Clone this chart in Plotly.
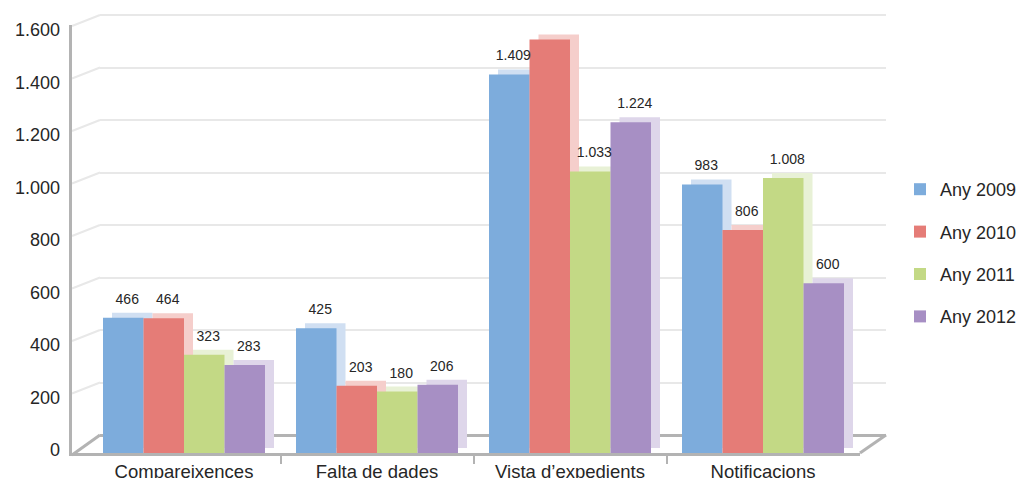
import plotly.graph_objects as go

categories = ["Compareixences", "Falta de dades", "Vista d\u2019expedients", "Notificacions"]
years = ["Any 2009", "Any 2010", "Any 2011", "Any 2012"]
any_2009 = [466, 425, 1409, 983]
any_2010 = [464, 203, 1545, 806]
any_2011 = [323, 180, 1033, 1008]
any_2012 = [283, 206, 1224, 600]
y_ticks = [0, 200, 400, 600, 800, 1000, 1200, 1400, 1600]

front_colors = ["#7DACDC", "#E57C77", "#C3D985", "#A78FC4"]
side_colors = ["#D0DFF2", "#F5CECB", "#E8F1D6", "#DED6EA"]

series = [any_2009, any_2010, any_2011, any_2012]

# pixel geometry of the fake 3D box (page pixels)
W, H = 1024, 478
page_off = 8                          # default body margin of the html page
left, right, top, bottom = 72, 886, 10, 453
back_left, front_right = 100, 860
cat_px0, cat_step = 184, 193          # first group centre, spacing
bar_zero, bar_scale = 438, 0.258      # front faces
grid_zero, grid_scale = 435, 0.2625   # back wall


def fx(p):
    return (p - left) / (right - left)


def fy(p):
    return (bottom - p) / (bottom - top)


depth = (bottom - bar_zero) / bar_scale      # bars reach down to the floor edge
lift = 5 / bar_scale                          # side face raised a little
bar_w = 40.5 / cat_step
side_dx = 9 / cat_step

fig = go.Figure()
xs = list(range(len(categories)))

# empty trace so the back-wall subplot (grid + value axis) gets drawn
fig.add_trace(go.Scatter(x=[], y=[], xaxis="x", yaxis="y", showlegend=False, hoverinfo="skip"))

# side / top faces first (behind)
for i, vals in enumerate(series):
    off = -2 * bar_w + i * bar_w
    fig.add_trace(go.Bar(
        x=xs, y=[v + depth for v in vals], base=-depth + lift,
        offset=off + side_dx, width=bar_w,
        marker=dict(color=side_colors[i], line=dict(width=0)),
        xaxis="x2", yaxis="y2", showlegend=False, hoverinfo="skip",
    ))

# front faces
for i, (name, vals) in enumerate(zip(years, series)):
    off = -2 * bar_w + i * bar_w
    fig.add_trace(go.Bar(
        x=xs, y=[v + depth for v in vals], base=-depth,
        offset=off, width=bar_w, name=name, legendgroup=name,
        marker=dict(color=front_colors[i], line=dict(width=0)),
        customdata=vals, hovertemplate="%{customdata}<extra>" + name + "</extra>",
        xaxis="x2", yaxis="y2",
    ))

# value labels
for i, vals in enumerate(series):
    off = -2 * bar_w + i * bar_w
    fig.add_trace(go.Scatter(
        x=[k + off + bar_w / 2 + 4 / cat_step for k in xs],
        y=[v + 17.5 / bar_scale for v in vals],
        text=[f"{v:,}".replace(",", ".") for v in vals],
        mode="text", textposition="middle center",
        textfont=dict(size=14, color="#262626"),
        xaxis="x2", yaxis="y2", showlegend=False, hoverinfo="skip", cliponaxis=False,
    ))

# frame decoration: floor slants and gridline returns on the left wall
shapes = [
    dict(type="line", xref="paper", yref="paper", x0=fx(left), y0=fy(bottom + 2),
         x1=fx(back_left), y1=fy(grid_zero), line=dict(color="#b3b3b3", width=3), layer="below"),
    dict(type="line", xref="paper", yref="paper", x0=fx(front_right), y0=fy(bottom),
         x1=fx(right), y1=fy(grid_zero), line=dict(color="#b3b3b3", width=3), layer="below"),
]
for t in y_ticks[1:]:
    gp = grid_zero - t * grid_scale
    shapes.append(dict(type="line", xref="paper", yref="paper", x0=fx(left), y0=fy(gp + 11),
                       x1=fx(back_left), y1=fy(gp), line=dict(color="#e8e8e8", width=2), layer="below"))

fig.update_layout(
    width=W - page_off, height=H - page_off,
    margin=dict(l=left - page_off, r=W - right, t=top - page_off, b=H - bottom, autoexpand=False),
    paper_bgcolor="white", plot_bgcolor="rgba(0,0,0,0)",
    font=dict(family="Liberation Sans, Arial, sans-serif", color="#262626"),
    separators=",.",
    barmode="overlay",
    showlegend=True,
    shapes=shapes,
    # back wall: gridlines and value ticks
    xaxis=dict(domain=[fx(back_left), 1], range=[0, 1], visible=False, anchor="y"),
    yaxis=dict(
        domain=[0, 1], anchor="x",
        range=[(grid_zero - bottom) / grid_scale, (grid_zero - top) / grid_scale],
        tickvals=y_ticks, tickformat=",d", tickfont=dict(size=18),
        showgrid=True, gridcolor="#e8e8e8", gridwidth=2,
        zeroline=True, zerolinecolor="#b3b3b3", zerolinewidth=3,
        showline=False, ticks="", ticklabelshift=15, ticklabelstandoff=39,
    ),
    # front: categories and bars
    xaxis2=dict(
        domain=[0, fx(front_right)], anchor="y2",
        range=[(left - cat_px0) / cat_step, (front_right - cat_px0) / cat_step],
        tickvals=xs, ticktext=categories, tickfont=dict(size=18.5),
        ticks="", showgrid=False, zeroline=False, ticklabelstandoff=0,
        showline=True, linecolor="#b3b3b3", linewidth=3, layer="below traces",
        minor=dict(tickvals=[k + 0.5 for k in xs[:-1]], ticks="outside", ticklen=8,
                   tickcolor="#b3b3b3", tickwidth=2),
    ),
    yaxis2=dict(
        domain=[0, fy(25)], anchor="x2",
        range=[(bar_zero - bottom) / bar_scale, (bar_zero - 25) / bar_scale],
        showticklabels=False, ticks="", showgrid=False, zeroline=False,
        showline=True, linecolor="#b3b3b3", linewidth=3,
    ),
    legend=dict(
        x=fx(900), xanchor="left", y=fy(253), yanchor="middle",
        font=dict(size=18, color="#262626"), tracegroupgap=16,
        traceorder="grouped", itemclick=False, bgcolor="rgba(0,0,0,0)",
    ),
)

fig.write_html("out.html")
